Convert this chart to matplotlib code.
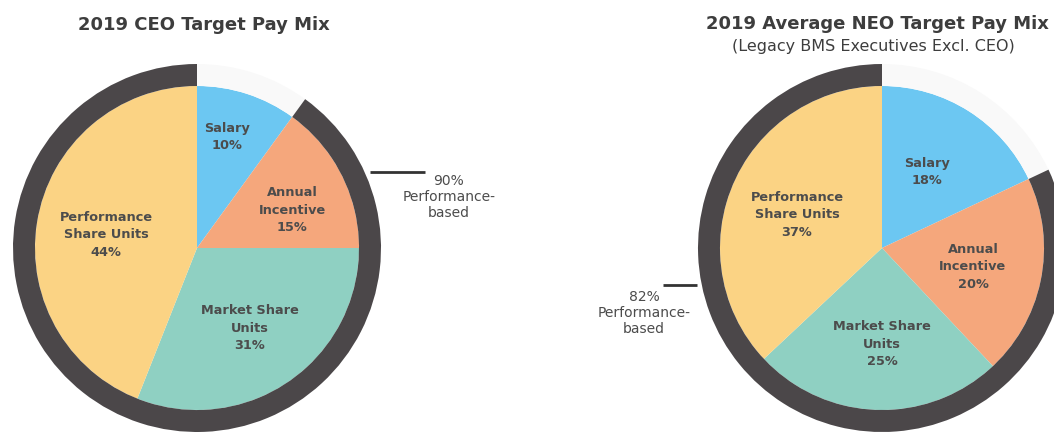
import matplotlib

matplotlib.use("Agg")
import matplotlib.pyplot as plt

W, H = 1054, 432

# data
slice_names = ["Salary", "Annual\nIncentive", "Market Share\nUnits", "Performance\nShare Units"]
ceo_values = [10, 15, 31, 44]
neo_values = [18, 20, 25, 37]
perf_based = [90, 82]
titles = ["2019 CEO Target Pay Mix", "2019 Average NEO Target Pay Mix"]
subtitle = "(Legacy BMS Executives Excl. CEO)"

colors = ["#6cc7f2", "#f5a77c", "#8fd0c2", "#fbd384"]
ring_color = "#4b4749"
faint = "#f9f9f9"
text_color = "#4c4c4c"

fig = plt.figure(figsize=(W / 100, H / 100), dpi=100)
ax = fig.add_axes([0, 0, 1, 1])


def py(y):
    # pixel row -> data y
    return H - y


def draw_pie(values, perf, cx, cy, label_pos):
    r_in, ring_w = 162, 22
    ax.pie(values, colors=colors, startangle=90, counterclock=False,
           center=(cx, py(cy)), radius=r_in, frame=True,
           wedgeprops=dict(linewidth=0))
    ax.pie([100 - perf, perf], colors=[faint, ring_color], startangle=90,
           counterclock=False, center=(cx, py(cy)), radius=r_in + ring_w, frame=True,
           wedgeprops=dict(width=ring_w, linewidth=0))
    for name, val, (x, y) in zip(slice_names, values, label_pos):
        ax.text(x, py(y), f"{name}\n{val}%", ha="center", va="center",
                fontsize=9.3, fontweight="bold", color=text_color, linespacing=1.45)


draw_pie(ceo_values, perf_based[0], 197, 248,
         [(227, 137), (292, 210), (250, 328), (106, 235)])
draw_pie(neo_values, perf_based[1], 882, 248,
         [(927, 172), (973, 267), (882, 344), (797, 215)])

# performance-based callouts
ax.plot([370, 425], [py(172), py(172)], color="#333333", lw=2, solid_capstyle="butt")
ax.text(449, py(197), f"{perf_based[0]}%\nPerformance-\nbased", ha="center", va="center",
        fontsize=10, color=text_color, linespacing=1.2)
ax.plot([663, 697], [py(285), py(285)], color="#333333", lw=2, solid_capstyle="butt")
ax.text(644, py(313), f"{perf_based[1]}%\nPerformance-\nbased", ha="center", va="center",
        fontsize=10, color=text_color, linespacing=1.2)

# titles
ax.text(204, py(25), titles[0], ha="center", va="center", fontsize=13,
        fontweight="bold", color="#3d3d3d")
ax.text(877, py(24), titles[1], ha="center", va="center", fontsize=13,
        fontweight="bold", color="#3d3d3d")
ax.text(873, py(47), subtitle, ha="center", va="center", fontsize=11.5, color="#3d3d3d")

ax.set_xlim(0, W)
ax.set_ylim(0, H)
ax.set_aspect("equal")
ax.axis("off")

fig.savefig("out.png", dpi=100)
